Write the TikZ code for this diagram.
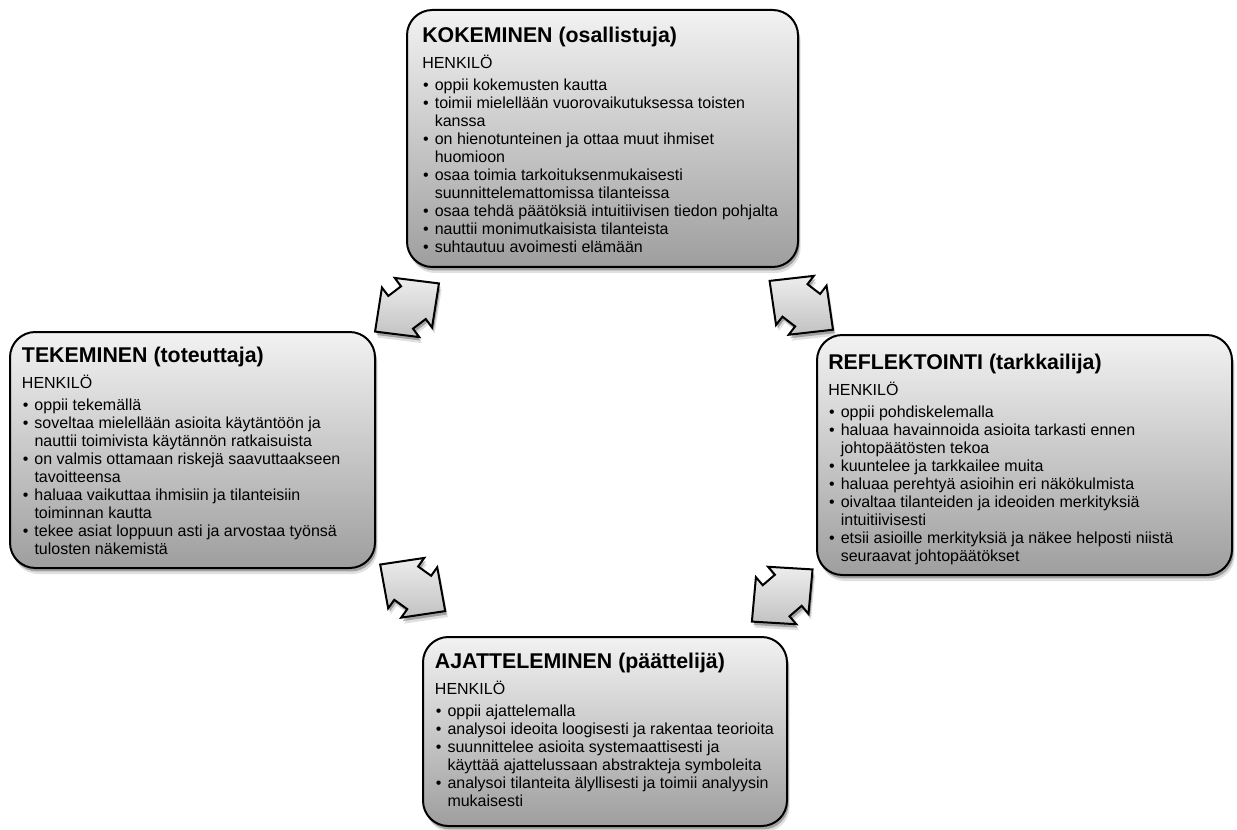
\documentclass[tikz,border=0pt]{standalone}
\usepackage{fontspec}
\setmainfont{Liberation Sans}
\usetikzlibrary{shadows,calc}

% bullet paragraph with hanging indent; \newline breaks keep the indent
\newlength{\bulind}
\setlength{\bulind}{9.4pt}
\newcommand{\bu}{\par\hangindent=\bulind\hangafter=1\noindent\makebox[\bulind][l]{\hspace{0.6pt}•}}
\newcommand{\henkbody}[1]{\parbox[t]{330pt}{\raggedright HENKILÖ\par\vspace{3.2pt}#1\par}}

\tikzset{
  softshadow/.style={
    drop shadow={shadow xshift=1.2pt, shadow yshift=-2.6pt, opacity=0.28, fill=black},
    drop shadow={shadow xshift=2pt, shadow yshift=-4.5pt, opacity=0.12, fill=black}},
  stagebox/.style={draw=black, line width=1.5pt, rounded corners=19pt,
    top color=black!5, bottom color=black!38, softshadow, inner sep=0, outer sep=0},
  heading/.style={anchor=base west, inner sep=0, font=\fontsize{16}{19}\selectfont\bfseries},
  bodytext/.style={anchor=base west, inner sep=0, font=\fontsize{12}{13.5}\selectfont},
  arrowbody/.style={draw=black, line width=1.5pt, line join=miter,
    top color=black!7, bottom color=black!24, softshadow},
  % short double-headed block arrow along the local x axis (units: px)
  pics/cyclearrow/.style={code={
    \draw[arrowbody] (40,0) -- (8,31) -- (8,20.5) -- (-8,20.5) -- (-8,31)
      -- (-40,0) -- (-8,-31) -- (-8,-20.5) -- (8,-20.5) -- (8,-31) -- cycle;
  }}
}

\begin{document}
\begin{tikzpicture}[x=0.75pt, y=-0.75pt]
\useasboundingbox (0,0) rectangle (1237,830);

% the four stage boxes
\node[stagebox, minimum width=293.25pt, minimum height=192.75pt] (kok) at (602.5,138.5) {};
\node[stagebox, minimum width=273.75pt, minimum height=177pt]    (tek) at (192.5,450) {};
\node[stagebox, minimum width=311.25pt, minimum height=180pt]    (ref) at (1024.5,455) {};
\node[stagebox, minimum width=273pt,    minimum height=141.75pt] (aja) at (605,731.5) {};

% double arrows between neighbouring stages
\pic[rotate=37]    (akt) at (407,307.5)   {cyclearrow};
\pic[rotate=-37.6] (akr) at (801.3,305.3) {cyclearrow};
\pic[rotate=-35.6] (ata) at (412.7,587.8) {cyclearrow};
\pic[rotate=40.7]  (ara) at (782.2,595.5) {cyclearrow};

% KOKEMINEN
\node[heading] (kokT) at ($(kok.north west)+(15,32.6)$) {KOKEMINEN (osallistuja)};
\node[bodytext] (kokB) at ($(kokT.base west)+(0,26.1)$) {\henkbody{%
\bu oppii kokemusten kautta
\bu toimii mielellään vuorovaikutuksessa toisten\newline kanssa
\bu on hienotunteinen ja ottaa muut ihmiset\newline huomioon
\bu osaa toimia tarkoituksenmukaisesti\newline suunnittelemattomissa tilanteissa
\bu osaa tehdä päätöksiä intuitiivisen tiedon pohjalta
\bu nauttii monimutkaisista tilanteista
\bu suhtautuu avoimesti elämään}};

% TEKEMINEN
\node[heading] (tekT) at ($(tek.north west)+(11.7,30.6)$) {TEKEMINEN (toteuttaja)};
\node[bodytext] (tekB) at ($(tekT.base west)+(0,26.1)$) {\henkbody{%
\bu oppii tekemällä
\bu soveltaa mielellään asioita käytäntöön ja\newline nauttii toimivista käytännön ratkaisuista
\bu on valmis ottamaan riskejä saavuttaakseen\newline tavoitteensa
\bu haluaa vaikuttaa ihmisiin ja tilanteisiin\newline toiminnan kautta
\bu tekee asiat loppuun asti ja arvostaa työnsä\newline tulosten näkemistä}};

% REFLEKTOINTI
\node[heading] (refT) at ($(ref.north west)+(11,34.3)$) {REFLEKTOINTI (tarkkailija)};
\node[bodytext] (refB) at ($(refT.base west)+(0,26.1)$) {\henkbody{%
\bu oppii pohdiskelemalla
\bu haluaa havainnoida asioita tarkasti ennen\newline johtopäätösten tekoa
\bu kuuntelee ja tarkkailee muita
\bu haluaa perehtyä asioihin eri näkökulmista
\bu oivaltaa tilanteiden ja ideoiden merkityksiä\newline intuitiivisesti
\bu etsii asioille merkityksiä ja näkee helposti niistä\newline seuraavat johtopäätökset}};

% AJATTELEMINEN
\node[heading] (ajaT) at ($(aja.north west)+(11.7,31)$) {AJATTELEMINEN (päättelijä)};
\node[bodytext] (ajaB) at ($(ajaT.base west)+(0,26.1)$) {\henkbody{%
\bu oppii ajattelemalla
\bu analysoi ideoita loogisesti ja rakentaa teorioita
\bu suunnittelee asioita systemaattisesti ja\newline käyttää ajattelussaan abstrakteja symboleita
\bu analysoi tilanteita älyllisesti ja toimii analyysin\newline mukaisesti}};
\end{tikzpicture}
\end{document}
